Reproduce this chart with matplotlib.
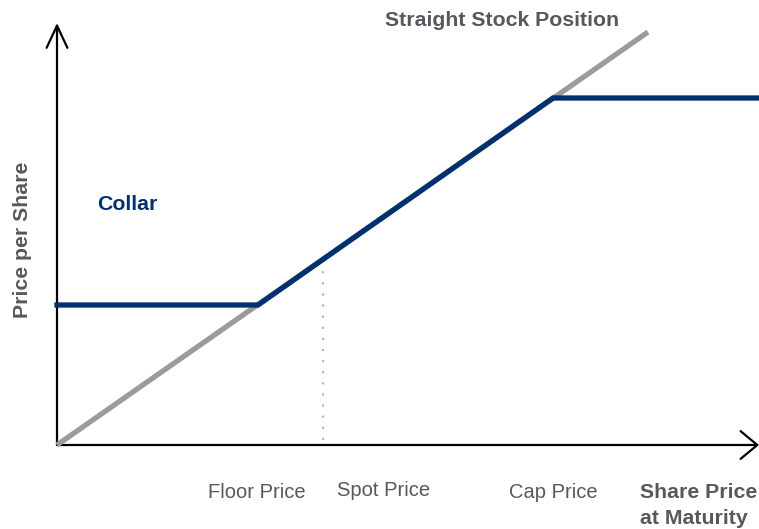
import matplotlib
matplotlib.use("Agg")
import matplotlib.pyplot as plt
from matplotlib.patches import ArrowStyle

plt.rcParams['font.family'] = ['Liberation Sans', 'DejaVu Sans']

# Data (arbitrary price units; origin at 0)
stock_x = [0, 591]
stock_y = [0, 413]
collar_x = [0, 201, 496, 702]
collar_y = [140, 140, 347, 347]
spot_x = [266, 266]
spot_y = [5, 185]
x_tick_pos = [201, 266, 496]
x_tick_labels = ["Floor Price", "Spot Price", "Cap Price"]

GRAY = "#999b9e"
NAVY = "#00306e"
TEXT = "#55585d"

fig = plt.figure(figsize=(7.59, 5.29), dpi=100)
ax = fig.add_axes([0, 0, 1, 1])
ax.set_xlim(-57, 702)
ax.set_ylim(-84, 445)
ax.axis('off')

# axes with open arrow heads
xstyle = ArrowStyle("->", head_length=12, head_width=10)
ystyle = ArrowStyle("->", head_length=16, head_width=7.5)
ax.annotate("", xy=(702, 0), xytext=(0, 0), annotation_clip=False,
            arrowprops=dict(arrowstyle=xstyle, mutation_scale=1, lw=1.6, color="black",
                            shrinkA=0, shrinkB=0))
ax.annotate("", xy=(0, 422), xytext=(0, 0), annotation_clip=False,
            arrowprops=dict(arrowstyle=ystyle, mutation_scale=1, lw=1.6, color="black",
                            shrinkA=0, shrinkB=0))

ax.plot(spot_x, spot_y, color="#b5b7ba", lw=1.6, linestyle=(0, (1, 4)), zorder=2)
ax.plot(stock_x, stock_y, color=GRAY, lw=3.8, solid_capstyle='butt', zorder=3)
ax.plot(collar_x, collar_y, color=NAVY, lw=3.8, solid_joinstyle='miter', zorder=4)

fs = 14.5
fsb = 15.3
label_x = [200, 327, 496]
label_y = [-47, -45, -47]
for lx, ly, t in zip(label_x, label_y, x_tick_labels):
    ax.text(lx, ly, t, ha='center', va='center', fontsize=fs, color=TEXT)

ax.text(583, -47, "Share Price", ha='left', va='center', fontsize=fsb,
        fontweight='bold', color=TEXT)
ax.text(583, -74, "at Maturity", ha='left', va='center', fontsize=fsb,
        fontweight='bold', color=TEXT)
ax.text(445, 424, "Straight Stock Position", ha='center', va='center', fontsize=fsb,
        fontweight='bold', color=TEXT)
ax.text(40, 240, "Collar", ha='left', va='center', fontsize=fsb,
        fontweight='bold', color=NAVY)
ax.text(-34, 205, "Price per Share", ha='center', va='center', rotation=90,
        fontsize=fsb, fontweight='bold', color=TEXT)

fig.savefig("out.png", dpi=100)
